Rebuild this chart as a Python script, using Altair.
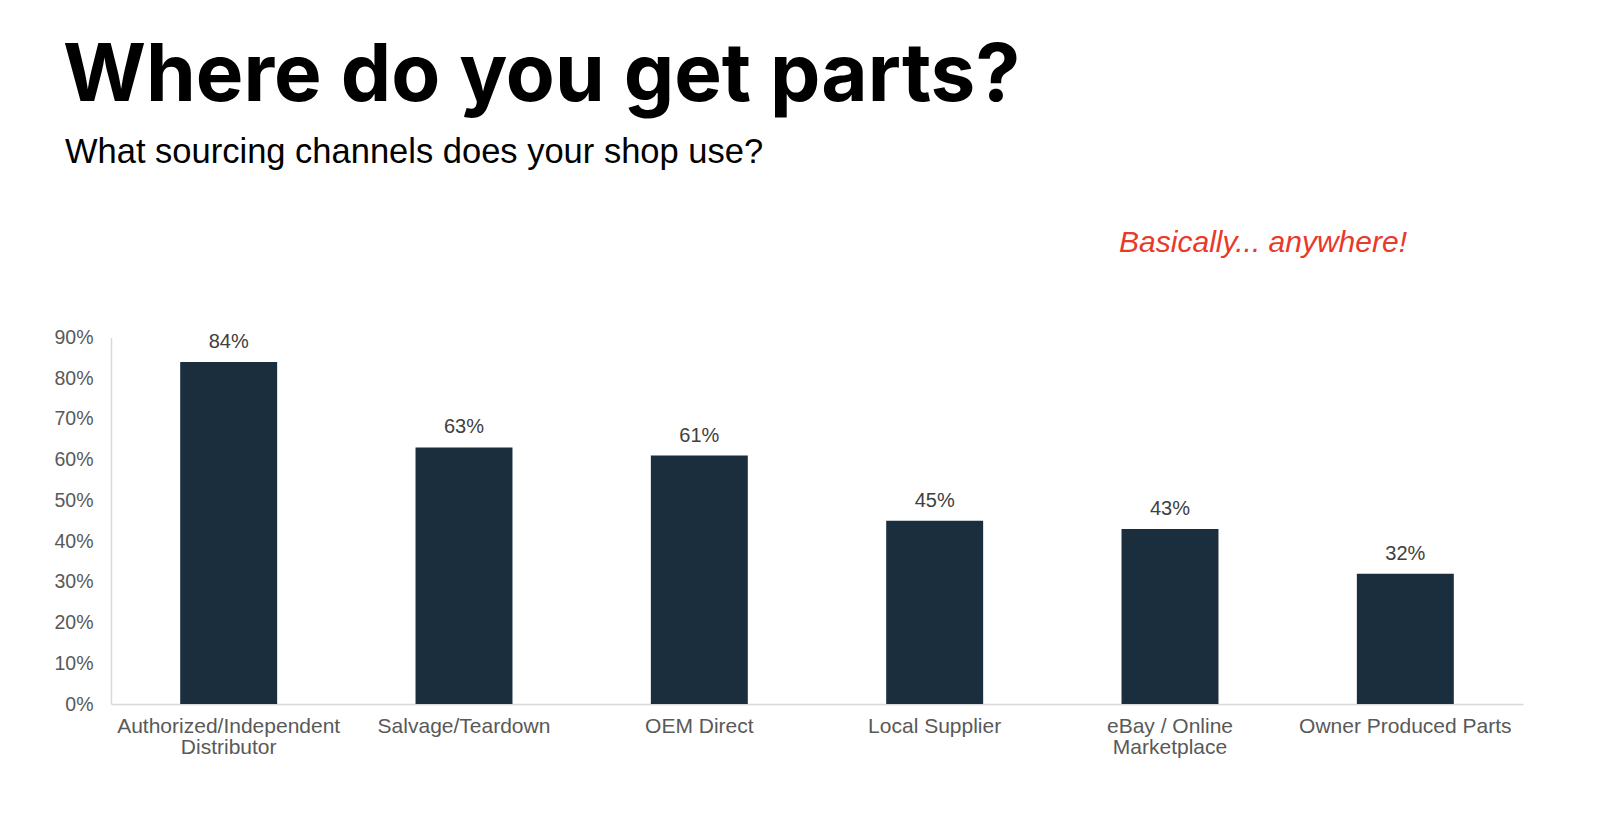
import altair as alt
import pandas as pd

categories = ["Authorized/Independent Distributor", "Salvage/Teardown", "OEM Direct",
              "Local Supplier", "eBay / Online Marketplace", "Owner Produced Parts"]
values = [0.84, 0.63, 0.61, 0.45, 0.43, 0.32]
y_ticks = [0, 0.1, 0.2, 0.3, 0.4, 0.5, 0.6, 0.7, 0.8, 0.9]

title_text = "Where do you get parts?"
subtitle_text = "What sourcing channels does your shop use?"
note_text = "Basically... anywhere!"

df = pd.DataFrame({"channel": categories, "share": values})

label_expr = ("datum.label == 'Authorized/Independent Distributor' ? ['Authorized/Independent', 'Distributor'] : "
              "datum.label == 'eBay / Online Marketplace' ? ['eBay / Online', 'Marketplace'] : datum.label")

x = alt.X("channel:N", sort=categories, title=None,
          scale=alt.Scale(paddingInner=0.588, paddingOuter=0.294),
          axis=alt.Axis(labelAngle=0, labelFont="Liberation Sans", labelFontSize=21,
                        labelColor="#595959", labelPadding=11, labelLineHeight=21,
                        labelLimit=400, ticks=False, domainColor="#d9d9d9", domainWidth=1.5,
                        labelExpr=label_expr))
y = alt.Y("share:Q", title=None,
          scale=alt.Scale(domain=[0, 0.9], nice=False),
          axis=alt.Axis(values=y_ticks, format=".0%", grid=False, ticks=False,
                        labelFont="Liberation Sans", labelFontSize=19.5, labelColor="#595959",
                        labelPadding=18, domainColor="#d9d9d9", domainWidth=1.5))

base = alt.Chart(df)
bars = base.mark_bar(color="#1a2e3e").encode(x=x, y=y)
labels = base.mark_text(baseline="alphabetic", dy=-14, font="Liberation Sans", fontSize=20,
                        color="#404040").encode(x=x, y=y, text=alt.Text("share:Q", format=".0%"))

tdf = pd.DataFrame({"t": [title_text]})
title = alt.Chart(tdf).mark_text(align="left", baseline="alphabetic", font="Inter",
                                 fontWeight="bold", fontSize=80, color="#000000").encode(
    x=alt.value(-48), y=alt.value(-236.5), text="t:N")
sdf = pd.DataFrame({"t": [subtitle_text]})
subtitle = alt.Chart(sdf).mark_text(align="left", baseline="alphabetic", font="Liberation Sans",
                                    fontSize=34.5, color="#000000").encode(
    x=alt.value(-46), y=alt.value(-174.5), text="t:N")
ndf = pd.DataFrame({"t": [note_text]})
note = alt.Chart(ndf).mark_text(align="right", baseline="alphabetic", font="Liberation Sans",
                                fontStyle="italic", fontSize=30, color="#e8392a").encode(
    x=alt.value(1296), y=alt.value(-85.5), text="t:N")

chart = alt.layer(bars, labels, title, subtitle, note).properties(
    width=1412, height=366.5,
    autosize=alt.AutoSizeParams(type="none"),
    padding={"left": 103, "top": 329.5, "right": 50, "bottom": 90},
    background="white",
).configure_view(stroke=None)

chart.save("out.html", embed_options={"renderer": "svg", "actions": False})
